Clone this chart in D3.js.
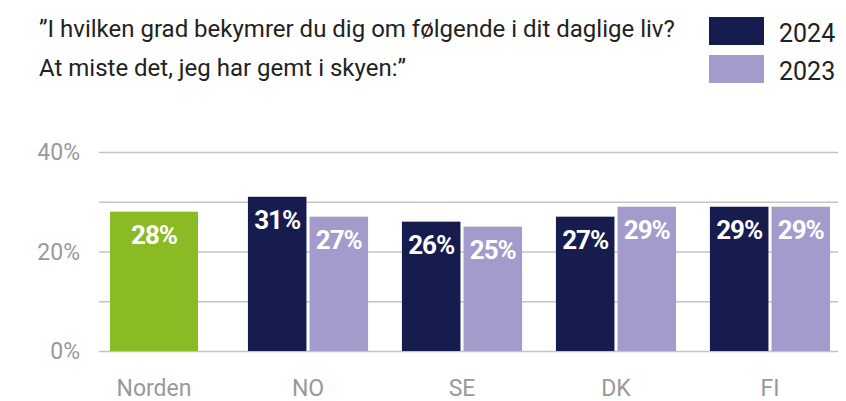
<!DOCTYPE html>
<html>
<head>
<meta charset="utf-8">
<script src="https://cdn.jsdelivr.net/npm/d3@7"></script>
<style>
  body { margin: 0; background: #fff; }
  svg { display: block; font-family: Roboto, "DejaVu Sans", sans-serif; }
</style>
</head>
<body>
<div id="chart"></div>
<script>
// data
var categories = ["Norden", "NO", "SE", "DK", "FI"];
var years = ["2024", "2023"];
var nordenValue = 28;
var values2024 = [31, 26, 27, 29];
var values2023 = [27, 25, 29, 29];
var yTicks = [0, 10, 20, 30, 40];
var titleLines = ["\u201dI hvilken grad bekymrer du dig om f\u00f8lgende i dit daglige liv?",
                  "At miste det, jeg har gemt i skyen:\u201d"];

var width = 846, height = 401;
var colors = {"2024": "#171c4f", "2023": "#a39bcb", norden: "#8aba24"};

var svg = d3.select("#chart").append("svg")
    .attr("width", width)
    .attr("height", height);

// title
svg.selectAll("text.title")
    .data(titleLines)
    .enter().append("text")
    .attr("class", "title")
    .attr("x", 39)
    .attr("y", function(d, i) { return 37 + i * 39; })
    .style("font-size", "24px")
    .style("fill", "#222")
    .text(function(d) { return d; });

// legend
var legend = svg.selectAll("g.legend")
    .data(years)
    .enter().append("g")
    .attr("class", "legend")
    .attr("transform", function(d, i) { return "translate(709," + (17 + i * 38) + ")"; });
legend.append("rect")
    .attr("width", 55).attr("height", 28)
    .attr("fill", function(d) { return colors[d]; });
legend.append("text")
    .attr("x", 70).attr("y", 25)
    .style("font-size", "25px")
    .style("fill", "#222")
    .text(function(d) { return d; });

// scales
var yScale = d3.scaleLinear().domain([0, 40]).range([351, 152]);
var xScale = d3.scaleBand().domain(categories).range([77, 847])
    .paddingInner(0.18).paddingOuter(0.09);
var xSub = d3.scaleBand().domain(years).range([0, xScale.bandwidth()]).padding(0.05);

// grid
var yAxis = d3.axisLeft(yScale).tickValues(yTicks).tickSize(-(838 - 99)).tickFormat("");
svg.append("g").attr("transform", "translate(99,0)").call(yAxis)
    .call(function(g) {
        g.select(".domain").remove();
        g.selectAll(".tick line").attr("stroke", "#c4c4c4").attr("stroke-width", 1.5);
    });

// y labels (every 20%)
svg.selectAll("text.ylab")
    .data(yTicks.filter(function(d) { return d % 20 === 0; }))
    .enter().append("text")
    .attr("class", "ylab")
    .attr("x", 80)
    .attr("y", function(d) { return yScale(d) + 8; })
    .attr("text-anchor", "end")
    .style("font-size", "23px")
    .style("fill", "#999")
    .text(function(d) { return d + "%"; });

// x labels
svg.selectAll("text.xlab")
    .data(categories)
    .enter().append("text")
    .attr("class", "xlab")
    .attr("x", function(d) { return xScale(d) + xScale.bandwidth() / 2; })
    .attr("y", 396)
    .attr("text-anchor", "middle")
    .style("font-size", "23px")
    .style("fill", "#999")
    .text(function(d) { return d; });

// bars
var bars = [];
var nordenW = 88;
bars.push({x: xScale("Norden") + xScale.bandwidth() / 2 - nordenW / 2, w: nordenW, v: nordenValue, c: colors.norden});
categories.slice(1).forEach(function(cat, i) {
    bars.push({x: xScale(cat) + xSub("2024"), w: xSub.bandwidth(), v: values2024[i], c: colors["2024"]});
    bars.push({x: xScale(cat) + xSub("2023"), w: xSub.bandwidth(), v: values2023[i], c: colors["2023"]});
});

svg.selectAll("rect.bar")
    .data(bars)
    .enter().append("rect")
    .attr("class", "bar")
    .attr("x", function(d) { return d.x; })
    .attr("y", function(d) { return yScale(d.v); })
    .attr("width", function(d) { return d.w; })
    .attr("height", function(d) { return yScale(0) - yScale(d.v); })
    .attr("fill", function(d) { return d.c; });

svg.selectAll("text.val")
    .data(bars)
    .enter().append("text")
    .attr("class", "val")
    .attr("x", function(d) { return d.x + d.w / 2; })
    .attr("y", function(d) { return yScale(d.v) + 32; })
    .attr("text-anchor", "middle")
    .style("font-size", "26px")
    .style("font-weight", "bold")
    .style("letter-spacing", "-1px")
    .style("fill", "#fff")
    .text(function(d) { return d.v + "%"; });
</script>
</body>
</html>
